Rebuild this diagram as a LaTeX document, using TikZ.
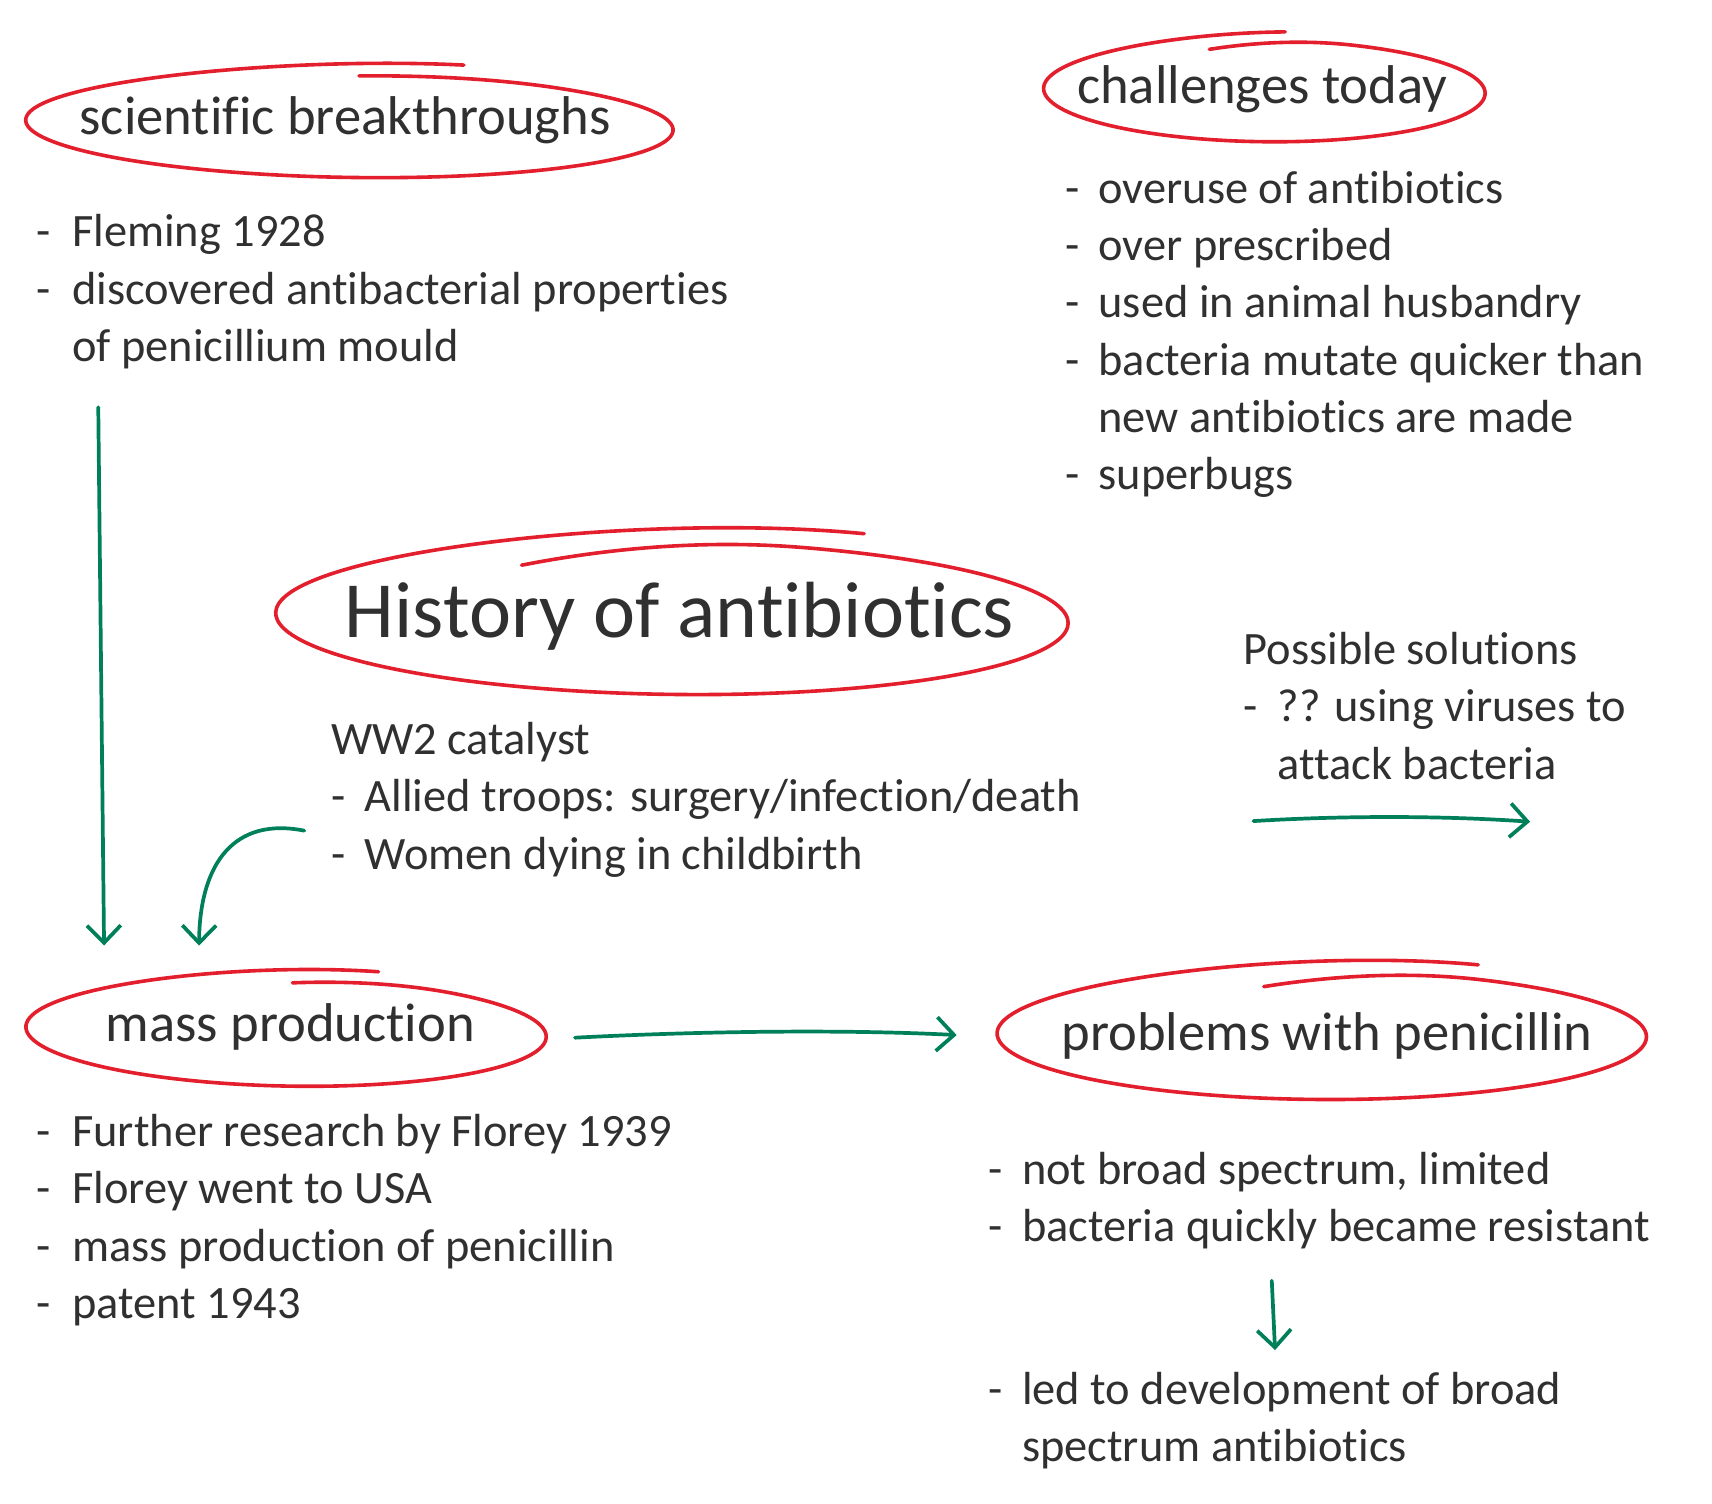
\documentclass[tikz,border=0pt]{standalone}
\usepackage{fontspec}
\setmainfont{Carlito}[Ligatures=NoCommon, RawFeature={-liga;-clig;-dlig}]
\usetikzlibrary{arrows.meta}
\definecolor{hred}{HTML}{E31E2D}
\definecolor{hgreen}{HTML}{00805A}
\definecolor{ink}{HTML}{303030}
\newcommand{\li}[1][31pt]{\makebox[#1][l]{-}}
\newcommand{\lc}[1][31pt]{\hspace*{#1}}
\newcommand{\handellipse}[9]{%
  \draw[hand] plot[smooth, samples=140, domain=0:1, variable=\t]
  ({#1+#3*cos((#5)-((#5)-(#6))*\t)},
   {#2-#4*(1-(#7)*dip(\t)*dip(\t)+(#8)*gro(\t,((#5)+180)/((#5)-(#6)))*gro(\t,((#5)+180)/((#5)-(#6))))*sin((#5)-((#5)-(#6))*\t)+(#9)*cos((#5)-((#5)-(#6))*\t)});}
\tikzset{
  declare function={dip(\p)=max(0,1-\p/0.1); gro(\p,\q)=max(0,(\p-\q)/(1-\q));},
  hand/.style={draw=hred, line width=3.3pt, line cap=round, line join=round},
  arr/.style={draw=hgreen, line width=3.4pt, line cap=round, -{Straight Barb[length=16pt,width=31pt]}},
  head/.style={font=\fontsize{50}{60}\selectfont, text=ink, inner sep=0pt, anchor=base},
  body/.style={font=\fontsize{42.5}{52.5}\selectfont, text=ink, inner sep=0pt, anchor=base west},
}
\begin{document}
\begin{tikzpicture}[x=1pt,y=-1pt]
\useasboundingbox[fill=white] (0,0) rectangle (1568,1377);

% headers
\node[head] (sb) at (316,123.5) {scientific breakthroughs};
\handellipse{320}{114.5}{296.5}{48}{88.3}{-291.1}{0.06}{0.26}{4.5}

\node[head] (ct) at (1156,94.5) {challenges today};
\handellipse{1158}{83.2}{202.2}{46.6}{104.45}{-275.8}{0.17}{0.17}{2.2}

\node[head, font=\fontsize{73}{80}\selectfont] (hist) at (622.4,583.7) {History of antibiotics};
\handellipse{615.4}{566}{362.9}{70}{112.3}{-299.45}{0.28}{0.30}{4.6}

\node[head] (mp) at (266,954) {mass production};
\handellipse{262}{945}{238.3}{49.7}{88.6}{-291.2}{0.095}{0.22}{4.5}

\node[head] (pp) at (1215.5,961.7) {problems with penicillin};
\handellipse{1210.6}{948}{297.4}{59}{100.3}{-299.2}{0.24}{0.26}{1.5}

% text blocks
\node[body] (sbtxt) at (33,226) {\begin{tabular}[t]{@{}l@{}}\li[33pt]Fleming 1928\\ \li[33pt]discovered antibacterial properties\\ \lc[33pt]of penicillium mould\end{tabular}};

\node[body] (cttxt) at (976,186) {\begin{tabular}[t]{@{}l@{}}\li[30pt]overuse of antibiotics\\ \li[30pt]over prescribed\\ \li[30pt]used in animal husbandry\\ \li[30pt]bacteria mutate quicker than\\ \lc[30pt]new antibiotics are made\\ \li[30pt]superbugs\end{tabular}};

\node[body] (ww2) at (303,691) {\begin{tabular}[t]{@{}l@{}}WW2 catalyst\\ \li Allied troops: surgery/infection/death\\ \li Women dying in childbirth\end{tabular}};

\node[body] (sol) at (1139,608.5) {\begin{tabular}[t]{@{}l@{}}Possible solutions\\ \li ?? using viruses to\\ \lc attack bacteria\end{tabular}};

\node[body] (mptxt) at (33,1050) {\begin{tabular}[t]{@{}l@{}}\li[33pt]Further research by Florey 1939\\ \li[33pt]Florey went to USA\\ \li[33pt]mass production of penicillin\\ \li[33pt]patent 1943\end{tabular}};

\node[body] (pptxt) at (905,1085) {\begin{tabular}[t]{@{}l@{}}\li not broad spectrum, limited\\ \li bacteria quickly became resistant\end{tabular}};

\node[body] (led) at (905,1286.5) {\begin{tabular}[t]{@{}l@{}}\li led to development of broad\\ \lc spectrum antibiotics\end{tabular}};

% connectors
\coordinate (a1s) at (90,373);
\coordinate (a1e) at (95.3,866);
\draw[arr] (a1s) -- (a1e);

\coordinate (a2s) at (278.7,760.8);
\coordinate (a2e) at (182.3,866);
\draw[arr] (a2s) .. controls (215,748) and (183,790) .. (a2e);

\coordinate (a3s) at (526.6,950.4);
\coordinate (a3e) at (876.2,948);
\draw[arr] (a3s) .. controls (650,944) and (780,943) .. (a3e);

\coordinate (a4s) at (1148,752);
\coordinate (a4e) at (1401.4,752.6);
\draw[arr] (a4s) .. controls (1230,747) and (1320,747) .. (a4e);

\coordinate (a5s) at (1164.8,1173);
\coordinate (a5e) at (1167.8,1236.5);
\draw[arr] (a5s) -- (a5e);
\end{tikzpicture}
\end{document}
